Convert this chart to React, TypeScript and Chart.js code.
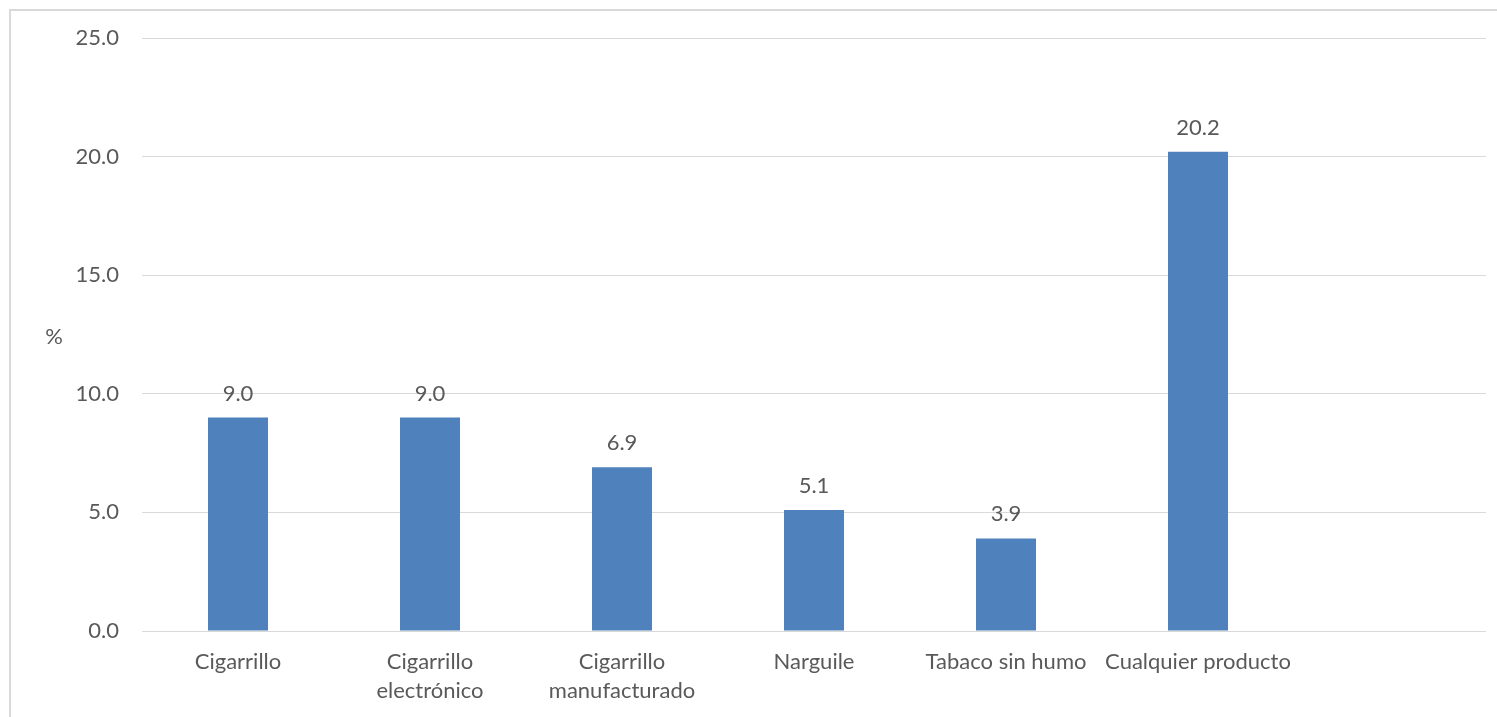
import React, { useEffect, useRef } from "react";
import { Chart, registerables } from "chart.js";

Chart.register(...registerables);

const categories: (string | string[])[] = [
  "Cigarrillo",
  ["Cigarrillo", "electrónico"],
  ["Cigarrillo", "manufacturado"],
  "Narguile",
  "Tabaco sin humo",
  "Cualquier producto",
  "",
];
const values: (number | null)[] = [9.0, 9.0, 6.9, 5.1, 3.9, 20.2, null];
const yTicks = [0, 5, 10, 15, 20, 25];

const FONT = "Lato, 'Open Sans', sans-serif";
const FS = 22;
const TEXT = "#595959";
const BAR = "#4f81bd";

const valueLabels = {
  id: "valueLabels",
  afterDatasetsDraw(chart: any) {
    const ctx = chart.ctx;
    const meta = chart.getDatasetMeta(0);
    ctx.save();
    ctx.font = `${FS}px ${FONT}`;
    ctx.fillStyle = TEXT;
    ctx.textAlign = "center";
    ctx.textBaseline = "alphabetic";
    meta.data.forEach((el: any, i: number) => {
      const v = values[i];
      if (v == null) return;
      ctx.fillText(v.toFixed(1), el.x, el.y - 17);
    });
    ctx.restore();
  },
};

const yTitle = {
  id: "yTitle",
  afterDraw(chart: any) {
    const ctx = chart.ctx;
    ctx.save();
    ctx.font = `${FS}px ${FONT}`;
    ctx.fillStyle = TEXT;
    ctx.textAlign = "center";
    ctx.textBaseline = "middle";
    ctx.fillText("%", 54, 337);
    ctx.restore();
  },
};

export default function App() {
  const ref = useRef<HTMLCanvasElement>(null);
  useEffect(() => {
    const chart = new Chart(ref.current!, {
      type: "bar",
      data: {
        labels: categories,
        datasets: [
          {
            data: values,
            backgroundColor: BAR,
            borderWidth: 0,
            barPercentage: 0.3125,
            categoryPercentage: 1,
          },
        ],
      },
      options: {
        animation: false,
        responsive: false,
        maintainAspectRatio: false,
        layout: { padding: { left: 0, right: 11, top: 38, bottom: 0 } },
        plugins: {
          legend: { display: false },
          tooltip: { enabled: false },
        },
        scales: {
          x: {
            grid: { display: false, drawTicks: false },
            border: { display: false },
            ticks: {
              color: TEXT,
              font: { family: FONT, size: FS, lineHeight: "29px" } as any,
              padding: 16,
              maxRotation: 0,
              autoSkip: false,
            },
            afterFit(scale: any) {
              scale.height = 86;
            },
          },
          y: {
            min: 0,
            max: 25,
            afterBuildTicks(scale: any) {
              scale.ticks = yTicks.map((v) => ({ value: v }));
            },
            grid: { color: "#d9d9d9", lineWidth: 1, drawTicks: false },
            border: { display: false },
            ticks: {
              color: TEXT,
              font: { family: FONT, size: FS },
              padding: 23,
              callback: (v: any) => Number(v).toFixed(1),
            },
            afterFit(scale: any) {
              scale.width = 142;
            },
          },
        },
      },
      plugins: [valueLabels, yTitle],
    });
    return () => chart.destroy();
  }, []);
  return (
    <>
      <div
        style={{
          position: "fixed",
          left: 0,
          top: 0,
          width: 1497,
          height: 717,
          overflow: "hidden",
          background: "#fff",
        }}
      >
        <div
          style={{
            position: "absolute",
            left: 9,
            top: 9,
            width: 1600,
            height: 800,
            border: "2px solid #d9d9d9",
          }}
        />
        <canvas
          ref={ref}
          width={1497}
          height={717}
          style={{ position: "absolute", left: 0, top: 0, width: 1497, height: 717 }}
        />
      </div>
    </>
  );
}
